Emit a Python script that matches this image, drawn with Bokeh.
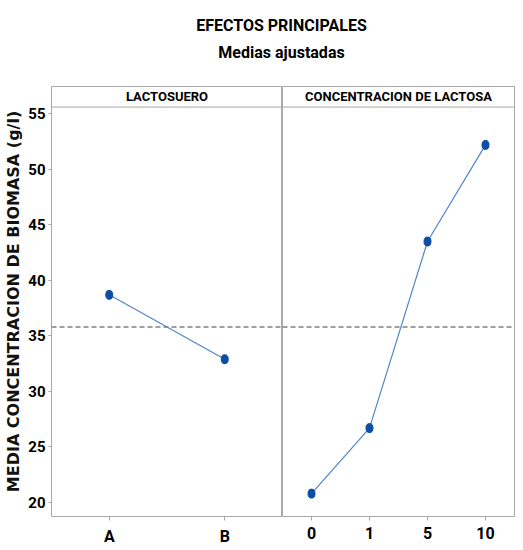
from bokeh.plotting import figure
from bokeh.models import FactorRange, Range1d, Span, Label, FixedTicker
from bokeh.layouts import column, row
from bokeh.embed import file_html
from bokeh.resources import INLINE

# Adjusted means of biomass concentration (g/l) per factor level
lactosuero_levels = ["A", "B"]
lactosuero_means = [38.7, 32.9]

lactosa_levels = ["0", "1", "5", "10"]
lactosa_means = [20.8, 26.7, 43.5, 52.2]

y_ticks = [20, 25, 30, 35, 40, 45, 50, 55]

grand_mean = sum(lactosuero_means) / len(lactosuero_means)

SANS = "Roboto"
FRAME = "#a8a8a8"
LINE = "#4f86c6"
DOT = "#0b4ea2"

y_range = Range1d(18.74, 57.46)
strip_bottom = 55.61
strip_mid = (57.46 + strip_bottom) / 2


def panel(levels, means, header, width, left_border, right_border, show_y):
    p = figure(
        width=width, height=464,
        x_range=FactorRange(*levels, range_padding=0), y_range=y_range,
        output_backend="svg", toolbar_location=None,
        min_border_left=left_border, min_border_right=right_border,
        min_border_top=0, min_border_bottom=34,
        y_axis_location="left" if show_y else None,
    )
    p.background_fill_color = "white"
    p.border_fill_color = "white"
    p.outline_line_color = FRAME
    p.outline_line_width = 1
    p.xgrid.visible = False
    p.ygrid.visible = False

    ax = p.xaxis[0]
    ax.axis_line_color = None
    ax.major_tick_line_color = FRAME
    ax.major_tick_in = 0
    ax.major_tick_out = 4
    ax.minor_tick_line_color = None
    ax.major_label_text_font = SANS
    ax.major_label_text_font_style = "bold"
    ax.major_label_text_font_size = "16px"
    ax.major_label_text_color = "black"
    ax.major_label_standoff = 6

    if show_y:
        ay = p.yaxis[0]
        ay.ticker = FixedTicker(ticks=y_ticks)
        ay.axis_line_color = None
        ay.major_tick_line_color = FRAME
        ay.major_tick_in = 0
        ay.major_tick_out = 3
        ay.minor_tick_line_color = None
        ay.major_label_text_font = SANS
        ay.major_label_text_font_style = "bold"
        ay.major_label_text_font_size = "15px"
        ay.major_label_text_color = "black"
        ay.major_label_standoff = 3
        ay.axis_label = "MEDIA CONCENTRACION DE BIOMASA (g/l)"
        ay.axis_label_text_font = "DejaVu Sans"
        ay.axis_label_text_font_style = "bold"
        ay.axis_label_text_font_size = "16px"
        ay.axis_label_text_color = "#111111"
        ay.axis_label_standoff = 2

    # header strip of the panel
    p.add_layout(Span(location=strip_bottom, dimension="width",
                      line_color=FRAME, line_width=1))
    p.add_layout(Label(x=len(levels) / 2, y=strip_mid, text=header,
                       text_align="center", text_baseline="middle",
                       text_font=SANS, text_font_style="bold",
                       text_font_size="13px", text_color="black"))

    # grand mean reference line
    p.add_layout(Span(location=grand_mean, dimension="width",
                      line_color="#808080", line_width=1.5, line_dash="5 3"))

    p.line(levels, means, line_color=LINE, line_width=1.2)
    p.ellipse(levels, means, width=7, height=9, width_units="screen",
              height_units="screen", fill_color=DOT, line_color=DOT)
    return p


left = panel(lactosuero_levels, lactosuero_means, "LACTOSUERO",
             282, 51, 0, True)
right = panel(lactosa_levels, lactosa_means, "CONCENTRACION DE LACTOSA",
              241, 0, 9, False)

head = figure(width=523, height=86, x_range=Range1d(0, 523),
              y_range=Range1d(0, 86), output_backend="svg",
              toolbar_location=None, min_border=0,
              x_axis_location=None, y_axis_location=None)
head.outline_line_color = None
head.xgrid.visible = False
head.ygrid.visible = False
head.add_layout(Label(x=281, y=61, text="EFECTOS PRINCIPALES",
                      text_align="center", text_baseline="middle",
                      text_font=SANS, text_font_style="bold",
                      text_font_size="16px", text_color="black"))
head.add_layout(Label(x=281, y=34, text="Medias ajustadas",
                      text_align="center", text_baseline="middle",
                      text_font=SANS, text_font_style="bold",
                      text_font_size="16px", text_color="black"))

page = column(head, row(left, right, spacing=0), spacing=0)

open("out.html", "w").write(file_html(page, INLINE))
